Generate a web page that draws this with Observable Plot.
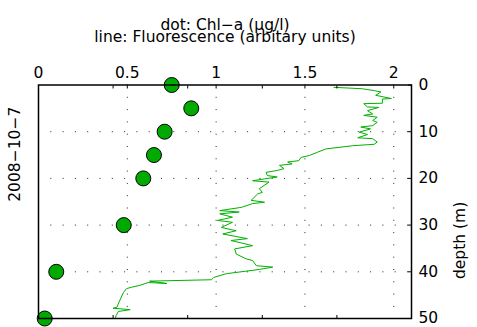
<!DOCTYPE html>
<html><head><meta charset="utf-8">
<script src="https://cdn.jsdelivr.net/npm/d3@7"></script>
<script src="https://cdn.jsdelivr.net/npm/@observablehq/plot@0.6"></script>
<style>body{margin:0;background:#fff}</style>
</head><body><div id="chart"></div>
<script>
// Chl-a samples (µg/l) at discrete depths (m)
const chlDepth = [0, 5, 10, 15, 20, 30, 40, 50];
const chlValue = [0.75, 0.86, 0.71, 0.65, 0.59, 0.48, 0.10, 0.035];

// Fluorescence profile (arbitrary units, bottom axis 0–5)
const fluorDepth = [0.5,0.8,1.2,1.5,2.2,2.9,3.0,3.9,4.0,4.7,4.8,5.5,6.2,6.5,6.9,7.6,8.0,8.7,9.0,9.4,
  10.1,10.6,11.3,11.5,12.2,12.7,13.0,13.7,14.4,15.1,15.5,16.2,16.5,16.9,17.2,17.9,18.3,18.7,19.4,19.7,
  20.1,20.5,20.8,22.2,23.0,23.3,24.7,25.1,25.4,26.2,26.9,27.2,27.6,28.3,29.0,29.4,30.5,31.2,31.9,32.9,
  33.3,34.4,35.1,36.2,37.2,37.6,38.7,39.0,39.5,40.4,41.2,41.7,42.0,42.5,42.3,42.9,43.3,43.6,44.4,45.4,
  46.5,47.6,47.8,48.1,48.5,49.4,50.0];
const fluorValue = [3.96,4.34,4.50,4.59,4.52,4.73,4.61,4.61,4.36,4.41,4.56,4.41,4.48,4.36,4.54,4.48,4.54,4.48,4.32,4.45,
  4.30,4.41,4.28,4.48,4.54,4.50,4.21,3.85,3.74,3.63,3.52,3.49,3.34,3.40,3.23,3.29,3.20,3.05,3.07,3.20,
  3.03,2.87,3.09,2.96,3.00,2.94,2.85,3.03,2.87,2.72,2.43,2.69,2.43,2.60,2.40,2.60,2.45,2.65,2.47,2.80,
  2.58,2.87,2.63,2.65,2.78,2.87,2.92,3.14,2.96,2.52,2.35,2.32,1.49,1.72,1.47,1.36,1.25,1.18,1.14,1.11,
  1.08,1.05,1.00,1.23,1.07,1.04,1.03];

const chlTicks = [0, 0.5, 1, 1.5, 2];
const chlGrid = [0.5, 1, 1.5, 2];
const depthTicks = [0, 10, 20, 30, 40, 50];
const depthGrid = [10, 20, 30, 40];
const fluorTicks = [1, 2, 3, 4];
const fluorMax = 5, chlMax = 2.1; // fluorescence axis 0–5 spans the Chl axis 0–2.1
const k = chlMax / fluorMax;

const chl = chlDepth.map((d, i) => ({depth: d, chl: chlValue[i]}));
const fluor = fluorDepth.map((d, i) => ({depth: d, f: fluorValue[i]}));

const font = "DejaVu Sans, Liberation Sans, Arial, sans-serif";
const fs = 15.5;
const green = "#00b000";
const num = d => String(d);
const blank = () => "";

const plot = Plot.plot({
  width: 477, height: 327,
  marginTop: 84.5, marginLeft: 38, marginRight: 66, marginBottom: 9,
  style: {fontFamily: font, fontSize: fs + "px", color: "#000", background: "#fff", overflow: "visible"},
  x: {domain: [0, chlMax], axis: null},
  y: {domain: [0, 50], reverse: true, axis: null},
  marks: [
    Plot.ruleX(chlGrid, {stroke: "#000", strokeWidth: 1, strokeDasharray: "1,11.3", strokeOpacity: 0.85}),
    Plot.ruleY(depthGrid, {stroke: "#000", strokeWidth: 1, strokeDasharray: "1,11.3", strokeOpacity: 0.85}),
    Plot.line(fluor, {x: d => d.f * k, y: "depth", stroke: green, strokeWidth: 1}),
    Plot.dot(chl, {x: "chl", y: "depth", r: 7.5, fill: "#00aa00", stroke: "#000", strokeWidth: 1}),
    Plot.frame({stroke: "#000", strokeWidth: 1.5}),
    // top Chl axis labels
    Plot.axisX(chlTicks, {anchor: "top", tickSize: 0, tickPadding: 7, fontSize: fs, tickFormat: num, label: null, fill: "#000"}),
    // inward tick marks
    Plot.axisX(chlTicks, {anchor: "top", tickSize: -3, tickFormat: blank, label: null}),
    Plot.axisX(fluorTicks.map(f => f * k), {anchor: "bottom", tickSize: -3, tickFormat: blank, label: null}),
    Plot.axisX(fluorTicks.map(f => f * k), {anchor: "top", tickSize: -3, tickFormat: blank, label: null}),
    Plot.axisY(depthTicks, {anchor: "right", tickSize: -4, tickFormat: blank, label: null}),
    Plot.axisY(depthTicks, {anchor: "right", tickSize: 0, tickPadding: 7, fontSize: fs, tickFormat: num, label: null, fill: "#000"}),
    // titles
    Plot.text(["dot: Chl\u2212a (\u00b5g/l)"], {frameAnchor: "top", dy: -66, fontSize: fs, fill: "#000"}),
    Plot.text(["line: Fluorescence (arbitary units)"], {frameAnchor: "top", dy: -54, fontSize: fs, fill: "#000"}),
    Plot.text(["depth (m)"], {frameAnchor: "right", dx: 49, rotate: -90, fontSize: fs, fill: "#000"}),
    Plot.text(["2008\u221210\u22127"], {frameAnchor: "left", dx: -23, rotate: -90, fontSize: fs, fill: "#000"})
  ]
});
document.getElementById("chart").appendChild(plot);
</script>
</body></html>
